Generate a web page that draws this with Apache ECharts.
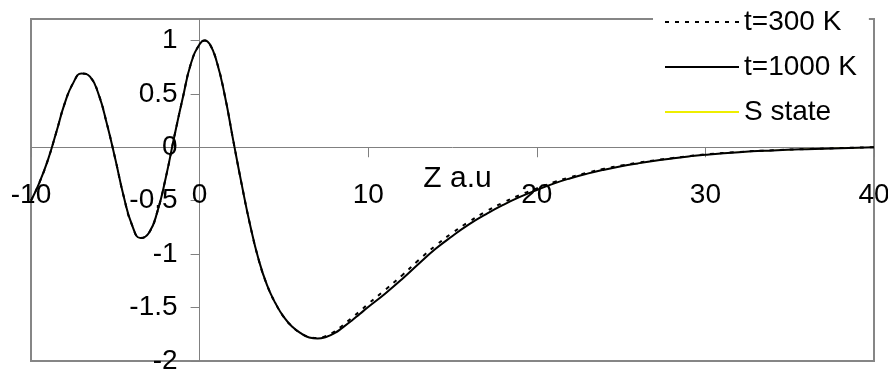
<!DOCTYPE html>
<html>
<head>
<meta charset="utf-8">
<script src="https://cdn.jsdelivr.net/npm/echarts@6.0.0/dist/echarts.min.js"></script>
<style>
  html, body { margin: 0; padding: 0; background: #fff; }
  #chart { width: 888px; height: 375px; }
</style>
</head>
<body>
<div id="chart"></div>
<script>
// z positions (a.u)
const zVals = [
  -10, -9.5, -9, -8.5, -8, -7.5, -7, -6.5, -6, -5.5, -5, -4.5, -4, -3.5, -3, -2.5, -2, -1.5, -1, -0.5,
  0, 0.3, 0.6, 1, 1.5, 2, 2.5, 3, 3.5, 4, 4.5, 5, 5.5, 6, 6.5, 7, 7.5, 8, 8.5, 9, 9.5, 10,
  11, 12, 13, 14, 15, 16, 17, 18, 19, 20, 21, 22, 23, 24, 25, 26, 27, 28, 29, 30,
  32, 34, 36, 38, 40
];

// t=1000 K
const t1000 = [
  -0.50, -0.33, -0.12, 0.14, 0.41, 0.60, 0.69, 0.66, 0.50, 0.22, -0.11, -0.46, -0.73, -0.85, -0.80, -0.60, -0.28, 0.10, 0.46, 0.79,
  0.965, 1.0, 0.965, 0.81, 0.48, 0.06, -0.35, -0.73, -1.05, -1.29, -1.46, -1.59, -1.68, -1.74, -1.78, -1.79, -1.775, -1.74, -1.685, -1.625, -1.56, -1.495,
  -1.37, -1.235, -1.09, -0.95, -0.83, -0.72, -0.625, -0.54, -0.465, -0.40, -0.34, -0.29, -0.247, -0.21, -0.178, -0.151, -0.127, -0.106, -0.087, -0.07,
  -0.046, -0.03, -0.018, -0.009, 0.0
];

// t=300 K
const t300 = [
  -0.50, -0.33, -0.12, 0.14, 0.41, 0.60, 0.69, 0.66, 0.50, 0.22, -0.11, -0.46, -0.73, -0.85, -0.80, -0.60, -0.28, 0.10, 0.46, 0.79,
  0.965, 1.0, 0.965, 0.81, 0.48, 0.06, -0.35, -0.73, -1.05, -1.29, -1.46, -1.59, -1.68, -1.74, -1.775, -1.785, -1.765, -1.725, -1.665, -1.60, -1.535, -1.465,
  -1.335, -1.20, -1.055, -0.92, -0.80, -0.695, -0.60, -0.518, -0.447, -0.385, -0.328, -0.28, -0.238, -0.202, -0.171, -0.145, -0.122, -0.102, -0.084, -0.067,
  -0.044, -0.028, -0.017, -0.008, 0.001
];

// S state (lies under the 1000 K curve)
const sState = [
  -0.50, -0.33, -0.12, 0.14, 0.41, 0.60, 0.69, 0.66, 0.50, 0.22, -0.11, -0.46, -0.73, -0.85, -0.80, -0.60, -0.28, 0.10, 0.46, 0.79,
  0.965, 1.0, 0.965, 0.81, 0.48, 0.06, -0.35, -0.73, -1.05, -1.29, -1.46, -1.59, -1.68, -1.74, -1.78, -1.79, -1.775, -1.74, -1.685, -1.625, -1.56, -1.495,
  -1.37, -1.235, -1.09, -0.95, -0.83, -0.72, -0.625, -0.54, -0.465, -0.40, -0.34, -0.29, -0.247, -0.21, -0.178, -0.151, -0.127, -0.106, -0.087, -0.07,
  -0.046, -0.03, -0.018, -0.009, 0.0
];

const yTicks = [-2, -1.5, -1, -0.5, 0, 0.5, 1];
const xTicks = [-10, 0, 10, 20, 30, 40];

const font = 'Liberation Sans, Arial, sans-serif';
const pairs = ys => zVals.map((z, i) => [z, ys[i]]);

// plot box, px
const gl = 31, gr = 14, gt = 19, gb = 14;
const W = 888, H = 375;
const xMin = -10, xMax = 40, yMin = -2, yMax = 1.2;
// shift axes so they cross at (0, 0) with labels attached
const xOffset = -((H - gb - gt) * (0 - yMin) / (yMax - yMin));
const yOffset = -((W - gl - gr) * (0 - xMin) / (xMax - xMin));

const myChart = echarts.init(document.getElementById('chart'));
myChart.setOption({
  animation: false,
  grid: {
    left: gl, right: gr, top: gt, bottom: gb,
    containLabel: false,
    outerBoundsMode: 'none',
    show: true,
    borderColor: '#868686',
    borderWidth: 2
  },
  legend: {
    orient: 'vertical',
    left: 653,
    top: 0,
    padding: [8, 12, 4, 11],
    itemWidth: 74,
    itemHeight: 14,
    itemGap: 17,
    backgroundColor: '#fff',
    itemStyle: { color: 'rgba(0,0,0,0)', borderWidth: 0, opacity: 0 },
    lineStyle: { width: 2 },
    textStyle: { fontSize: 28, fontFamily: font, color: '#000' },
    data: ['t=300 K', 't=1000 K', 'S state']
  },
  xAxis: {
    type: 'value',
    min: xMin,
    max: xMax,
    interval: 10,
    offset: xOffset,
    name: 'Z a.u',
    nameLocation: 'middle',
    nameGap: 16,
    nameMoveOverlap: false,
    nameTextStyle: { fontSize: 30, fontFamily: font, color: '#000', padding: [0, 0, 0, 10] },
    axisLine: { onZero: false, lineStyle: { color: '#808080', width: 1 } },
    axisTick: { length: 10, lineStyle: { color: '#808080' } },
    axisLabel: {
      margin: 34, fontSize: 28, fontFamily: font, color: '#000',
      customValues: xTicks
    },
    splitLine: { show: false }
  },
  yAxis: {
    type: 'value',
    min: yMin,
    max: yMax,
    interval: 0.5,
    offset: yOffset,
    axisLine: { onZero: false, lineStyle: { color: '#808080', width: 1 } },
    axisTick: { length: 9, lineStyle: { color: '#808080' }, customValues: yTicks },
    axisLabel: {
      margin: 22, fontSize: 28, fontFamily: font, color: '#000',
      customValues: yTicks
    },
    splitLine: { show: false }
  },
  series: [
    {
      name: 'S state',
      type: 'line',
      z: 1,
      smooth: true,
      symbol: 'none',
      lineStyle: { color: '#eeee00', width: 1 },
      data: pairs(sState)
    },
    {
      name: 't=300 K',
      type: 'line',
      z: 2,
      smooth: true,
      symbol: 'none',
      lineStyle: { color: '#000', width: 2, type: [4, 6] },
      data: pairs(t300)
    },
    {
      name: 't=1000 K',
      type: 'line',
      z: 3,
      smooth: true,
      symbol: 'none',
      lineStyle: { color: '#000', width: 2 },
      data: pairs(t1000)
    }
  ]
});
</script>
</body>
</html>
